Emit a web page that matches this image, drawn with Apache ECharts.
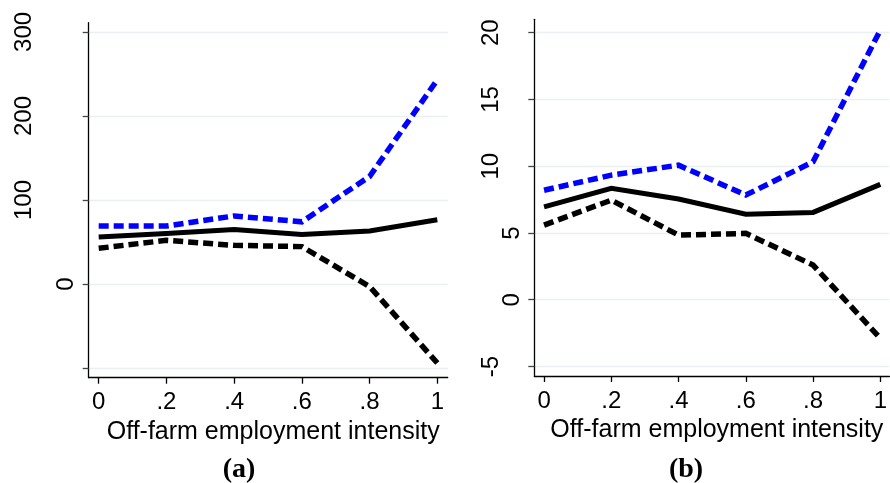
<!DOCTYPE html>
<html><head><meta charset="utf-8">
<script src="https://cdn.jsdelivr.net/npm/echarts@6/dist/echarts.min.js"></script>
<style>html,body{margin:0;padding:0;background:#fff}#c{width:890px;height:483px}</style>
</head><body><div id="c"></div>
<script>
// ---- data ----
const xValues = [0, 0.2, 0.4, 0.6, 0.8, 1];
const xTickValues = [0, 0.2, 0.4, 0.6, 0.8, 1];

const aUpper = [69, 69, 81, 74, 128, 243];
const aMid   = [56, 60, 65, 59, 63, 76.5];
const aLower = [42.5, 52, 46, 44.5, -3, -94];

const bUpper = [8.2, 9.33, 10.08, 7.84, 10.33, 20.2];
const bMid   = [6.96, 8.34, 7.54, 6.41, 6.54, 8.64];
const bLower = [5.59, 7.46, 4.84, 4.97, 2.6, -2.89];

const aYTicks  = [-100, 0, 100, 200, 300];
const aYLabels = [0, 100, 200, 300];
const bYTicks  = [-5, 0, 5, 10, 15, 20];
const bYLabels = [-5, 0, 5, 10, 15, 20];

const xAxisTitle = 'Off-farm employment intensity';
const panelTitles = ['(a)', '(b)'];

// ---- helpers ----
function pairs(ys) { return xValues.map((x, i) => [x, ys[i]]); }
function fmtX(v) {
  const r = Math.round(v * 10) / 10;
  if (r === 0) return '0';
  if (r === 1) return '1';
  return String(r).replace(/^0/, '');
}
const labelFont = { fontFamily: 'Liberation Sans, Arial, sans-serif', fontSize: 24, color: '#000' };
function yRich() {
  return {
    l1: Object.assign({ padding: [0, 0, 0, 0] }, labelFont),
    l2: Object.assign({ padding: [0, 0, 21, 0] }, labelFont),
    l3: Object.assign({ padding: [0, 0, 42, 0] }, labelFont)
  };
}
function yFmt(v) { const s = String(v); return '{l' + s.length + '|' + s + '}'; }

function xAxisCfg(gridIndex, min, max) {
  return {
    type: 'value', gridIndex, min, max,
    axisLine: { onZero: false, lineStyle: { color: '#000', width: 1.3 } },
    axisTick: { customValues: xTickValues, length: 6, lineStyle: { color: '#000', width: 1.3 } },
    axisLabel: Object.assign({ customValues: xTickValues, formatter: fmtX, margin: 13 }, labelFont),
    splitLine: { show: false },
    name: xAxisTitle, nameLocation: 'middle', nameGap: 41,
    nameTextStyle: { fontFamily: 'Liberation Sans, Arial, sans-serif', fontSize: 25, color: '#000', padding: [0, 0, 0, 10] }
  };
}
function yAxisCfg(gridIndex, min, max, ticks, labels) {
  return {
    type: 'value', gridIndex, min, max,
    axisLine: { show: true, onZero: false, lineStyle: { color: '#000', width: 1.3 } },
    axisTick: { show: true, customValues: ticks, length: 6, lineStyle: { color: '#444', width: 1.3 } },
    axisLabel: { customValues: labels, rotate: 90, margin: 10, formatter: yFmt, rich: yRich(),
                 fontFamily: labelFont.fontFamily, fontSize: 24, color: '#000' },
    splitLine: { show: true, lineStyle: { color: '#e8f0f1', width: 1.3 } }
  };
}
function lineSeries(idx, data, color, dashed, w) {
  return {
    type: 'line', xAxisIndex: idx, yAxisIndex: idx, data: pairs(data),
    showSymbol: false, symbol: 'none', silent: true,
    lineStyle: { color, width: w, type: dashed ? [10, 5] : 'solid', cap: 'butt', join: 'miter' }
  };
}

const chart = echarts.init(document.getElementById('c'), null, { renderer: 'canvas' });
chart.setOption({
  animation: false,
  backgroundColor: '#fff',
  title: [
    { text: panelTitles[0], left: 234, top: 451, textAlign: 'center',
      textStyle: { fontFamily: 'Liberation Serif, Times New Roman, serif', fontWeight: 'bold', fontSize: 28, color: '#000' } },
    { text: panelTitles[1], left: 681, top: 451, textAlign: 'center',
      textStyle: { fontFamily: 'Liberation Serif, Times New Roman, serif', fontWeight: 'bold', fontSize: 28, color: '#000' } }
  ],
  grid: [
    { left: 88.7, top: 22.7, width: 359, height: 355 },
    { left: 534.3, top: 19.3, width: 355.7, height: 356.7 }
  ],
  xAxis: [ xAxisCfg(0, -0.0295, 1.0307), xAxisCfg(1, -0.029, 1.027) ],
  yAxis: [ yAxisCfg(0, -111.5, 311, aYTicks, aYLabels), yAxisCfg(1, -5.71, 21, bYTicks, bYLabels) ],
  series: [
    lineSeries(0, aMid, '#000', false, 5),
    lineSeries(0, aLower, '#000', true, 5.5),
    lineSeries(0, aUpper, '#0000ff', true, 5.5),
    lineSeries(1, bMid, '#000', false, 5),
    lineSeries(1, bLower, '#000', true, 5.5),
    lineSeries(1, bUpper, '#0000ff', true, 5.5)
  ]
});
</script></body></html>
